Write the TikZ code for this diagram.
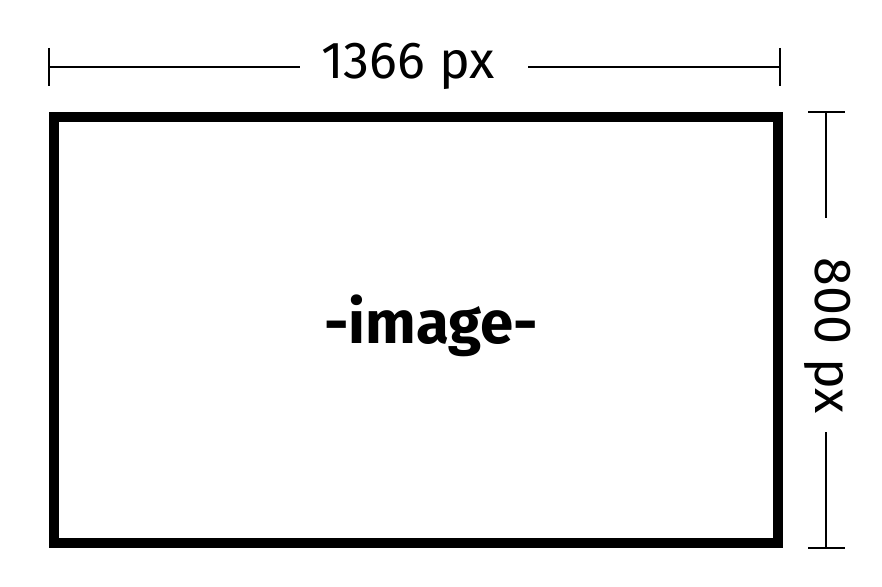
\documentclass[tikz,border=0pt]{standalone}
\usepackage{fontspec}
\setmainfont{Fira Sans}
\begin{document}
\begin{tikzpicture}[x=1pt,y=-1pt,
  dimline/.style={line width=2pt},
  frame/.style={draw, line width=10pt, inner sep=0pt},
  dimtext/.style={font=\fontsize{52}{52}\selectfont, inner sep=0pt},
  imgtext/.style={font=\fontsize{60}{60}\selectfont\bfseries, inner sep=0pt}]
\useasboundingbox (0,0) rectangle (882,586);
\node[frame, minimum width=724pt, minimum height=426pt] (img) at (416,330) {};
\node[imgtext] (lbl) at (431,326) {-image-};
% top dimension
\coordinate (tl) at (49,67);
\coordinate (tr) at (780,67);
\coordinate (tla) at (300,67);
\coordinate (tra) at (528,67);
\node[dimtext] (wtext) at (408,66) {1366 px};
\draw[dimline] (49,48) -- (49,86);
\draw[dimline] (780,48) -- (780,86);
\draw[dimline] (tl) -- (tla);
\draw[dimline] (tra) -- (tr);
% right dimension
\coordinate (rt) at (826,112);
\coordinate (rb) at (826,548);
\coordinate (rta) at (826,218);
\coordinate (rba) at (826,432);
\node[dimtext, rotate=-90] (htext) at (828,336) {800 px};
\draw[dimline] (808,112) -- (845,112);
\draw[dimline] (808,548) -- (845,548);
\draw[dimline] (rt) -- (rta);
\draw[dimline] (rba) -- (rb);
\end{tikzpicture}
\end{document}
